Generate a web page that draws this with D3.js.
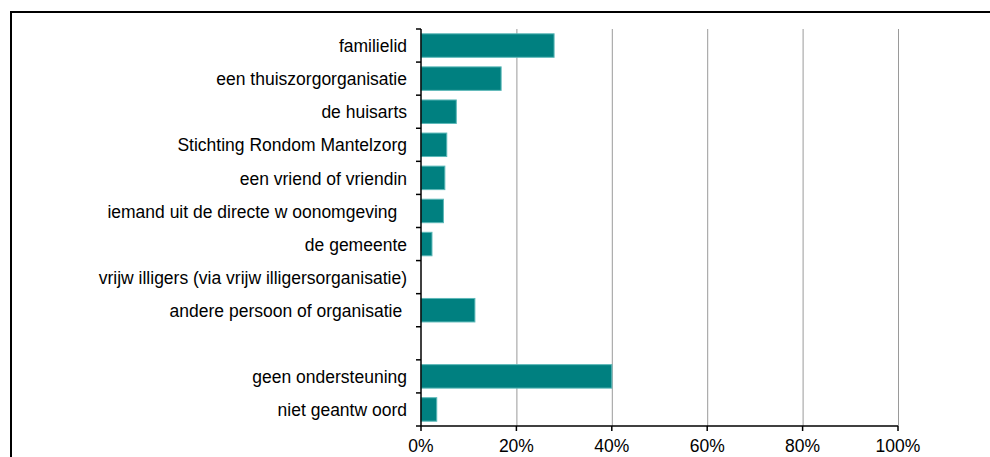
<!DOCTYPE html>
<html>
<head>
<meta charset="utf-8">
<script src="https://cdn.jsdelivr.net/npm/d3@7"></script>
<style>
  body { margin: 0; background: #fff; }
  svg text { font-family: "Liberation Sans", Arial, sans-serif; fill: #000; white-space: pre; }
</style>
</head>
<body>
<svg id="chart" width="990" height="457"></svg>
<script>
// categories top to bottom; "gap" is the empty row between the two groups
const categories = [
  "familielid",
  "een thuiszorgorganisatie",
  "de huisarts",
  "Stichting Rondom Mantelzorg",
  "een vriend of vriendin",
  "iemand uit de directe w oonomgeving",
  "de gemeente",
  "vrijw illigers (via vrijw illigersorganisatie)",
  "andere persoon of organisatie",
  "gap",
  "geen ondersteuning",
  "niet geantw oord"
];
const labels = [
  "familielid",
  "een thuiszorgorganisatie",
  "de huisarts",
  "Stichting Rondom Mantelzorg",
  "een vriend of vriendin",
  "iemand uit de directe w oonomgeving  ",
  "de gemeente",
  "vrijw illigers (via vrijw illigersorganisatie)",
  "andere persoon of organisatie ",
  "",
  "geen ondersteuning",
  "niet geantw oord"
];
const values = [27.9, 16.8, 7.4, 5.4, 5.0, 4.7, 2.3, 0, 11.3, null, 40.0, 3.3];
const xTicks = [0, 20, 40, 60, 80, 100];

const svg = d3.select("#chart");
const m = { left: 421, right: 898, top: 29, bottom: 426 };
const fontSize = 17.5;

// outer frame (only top and left edges are visible in the crop)
svg.append("path")
  .attr("d", `M11,457 V12 H990`)
  .attr("fill", "none")
  .attr("stroke", "#000")
  .attr("stroke-width", 2);

const x = d3.scaleLinear().domain([0, 100]).range([m.left, m.right]);
const y = d3.scaleBand().domain(categories).range([m.top, m.bottom]).paddingInner(0.29).paddingOuter(0.145);

// gridlines
svg.append("g")
  .selectAll("line")
  .data(xTicks.slice(1))
  .join("line")
  .attr("x1", d => x(d) + 0.5).attr("x2", d => x(d) + 0.5)
  .attr("y1", m.top).attr("y2", m.bottom)
  .attr("stroke", "#9a9a9a")
  .attr("stroke-width", 1);

// bars
const rows = categories.map((c, i) => ({ c, v: values[i] })).filter(d => d.v !== null);
svg.append("g")
  .selectAll("rect")
  .data(rows)
  .join("rect")
  .attr("x", x(0))
  .attr("y", d => y(d.c))
  .attr("width", d => x(d.v) - x(0))
  .attr("height", y.bandwidth())
  .attr("fill", "#008080")
  .attr("stroke", d => d.v > 0 ? "#5cb8b8" : "none")
  .attr("stroke-width", 1);

// y axis: line plus ticks at band boundaries
const step = y.step();
const yAxis = svg.append("g");
yAxis.append("line")
  .attr("x1", m.left).attr("x2", m.left)
  .attr("y1", m.top).attr("y2", m.bottom)
  .attr("stroke", "#000").attr("stroke-width", 1.5);
yAxis.selectAll(".tick")
  .data(d3.range(categories.length + 1))
  .join("line")
  .attr("class", "tick")
  .attr("x1", m.left - 5).attr("x2", m.left)
  .attr("y1", i => m.top + i * step).attr("y2", i => m.top + i * step)
  .attr("stroke", "#000").attr("stroke-width", 1.5);
yAxis.selectAll("text")
  .data(categories)
  .join("text")
  .attr("x", m.left - 14)
  .attr("y", d => y(d) + y.bandwidth() / 2)
  .attr("dy", "0.38em")
  .attr("text-anchor", "end")
  .attr("font-size", fontSize)
  .text((d, i) => labels[i]);

// x axis
const xAxis = svg.append("g");
xAxis.append("line")
  .attr("x1", m.left).attr("x2", m.right)
  .attr("y1", m.bottom).attr("y2", m.bottom)
  .attr("stroke", "#000").attr("stroke-width", 1.5);
xAxis.selectAll(".tick")
  .data(xTicks)
  .join("line")
  .attr("class", "tick")
  .attr("x1", d => x(d)).attr("x2", d => x(d))
  .attr("y1", m.bottom).attr("y2", m.bottom + 5)
  .attr("stroke", "#000").attr("stroke-width", 1.5);
xAxis.selectAll("text")
  .data(xTicks)
  .join("text")
  .attr("x", d => x(d))
  .attr("y", 452)
  .attr("text-anchor", "middle")
  .attr("font-size", fontSize)
  .text(d => d + "%");
</script>
</body>
</html>
